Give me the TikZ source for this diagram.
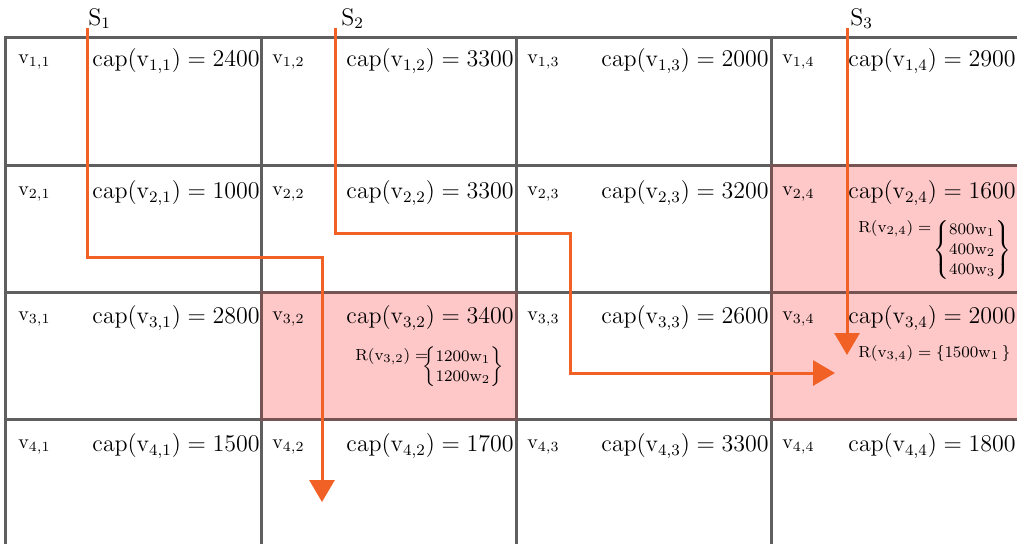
\documentclass[tikz,border=0pt]{standalone}
\usepackage{amsmath}
\usepackage{amssymb}
\usepackage{tikz}
\usetikzlibrary{arrows.meta}

\definecolor{gridgray}{RGB}{95,95,95}
\definecolor{cellpink}{RGB}{255,200,200}
\definecolor{celledge}{RGB}{118,84,84}
\definecolor{floworange}{RGB}{241,96,36}

\begin{document}
\begin{tikzpicture}[x=0.5pt,y=-0.5pt,
  vlab/.style={anchor=west,inner sep=0pt},
  caplab/.style={anchor=west,inner sep=0pt,font=\fontsize{11.8}{14}\selectfont},
  rlab/.style={anchor=west,inner sep=0pt,font=\fontsize{8.3}{10}\selectfont},
  slab/.style={anchor=base west,inner sep=0pt,font=\large},
  flow/.style={draw=floworange,line width=1.5pt,-{Triangle[width=12.5pt,length=11pt]}}]
 \useasboundingbox (0,0) rectangle (1017,543);
 \clip (0,0) rectangle (1017,543);
 % loaded cells
 \fill[cellpink] (771,165) rectangle (1030,419);
 \fill[cellpink] (261,292) rectangle (516,419);
 % grid
 \foreach \x in {5,261,516,771}
  \draw[gridgray,line width=1.5pt,line cap=rect] (\x,37) -- (\x,550);
 \foreach \y in {37,165,292,419}
  \draw[gridgray,line width=1.5pt,line cap=rect] (5,\y) -- (1030,\y);
 \draw[celledge,line width=1.5pt] (261,292) rectangle (516,419);
 \draw[celledge,line width=1.5pt] (771,165) rectangle (1030,419);
 \draw[celledge,line width=1.5pt] (771,292) -- (1030,292);

 % row 1
 \node[vlab] at (18,62)(v11){$\mathrm{v}_{1,1}$};
 \node[caplab] at (92,61)(c11){$\mathrm{cap}(\mathrm{v}_{1,1}) = 2400$};
 \node[vlab] at (272,62)(v12){$\mathrm{v}_{1,2}$};
 \node[caplab] at (346,61)(c12){$\mathrm{cap}(\mathrm{v}_{1,2}) = 3300$};
 \node[vlab] at (527,62)(v13){$\mathrm{v}_{1,3}$};
 \node[caplab] at (601,61)(c13){$\mathrm{cap}(\mathrm{v}_{1,3}) = 2000$};
 \node[vlab] at (782,62)(v14){$\mathrm{v}_{1,4}$};
 \node[caplab] at (848,61)(c14){$\mathrm{cap}(\mathrm{v}_{1,4}) = 2900$};
 % row 2
 \node[vlab] at (18,194)(v21){$\mathrm{v}_{2,1}$};
 \node[caplab] at (92,193)(c21){$\mathrm{cap}(\mathrm{v}_{2,1}) = 1000$};
 \node[vlab] at (272,194)(v22){$\mathrm{v}_{2,2}$};
 \node[caplab] at (346,193)(c22){$\mathrm{cap}(\mathrm{v}_{2,2}) = 3300$};
 \node[vlab] at (527,194)(v23){$\mathrm{v}_{2,3}$};
 \node[caplab] at (601,193)(c23){$\mathrm{cap}(\mathrm{v}_{2,3}) = 3200$};
 \node[vlab] at (782,194)(v24){$\mathrm{v}_{2,4}$};
 \node[caplab] at (848,193)(c24){$\mathrm{cap}(\mathrm{v}_{2,4}) = 1600$};
 \node[rlab] at (858,229)(r24){$\mathrm{R}(\mathrm{v}_{2,4}) =$};
 \node[rlab] at (933,250)(m24){$\left\{\begin{matrix}
   800\mathrm{w}_1 \\
   400\mathrm{w}_2 \\
   400\mathrm{w}_3
  \end{matrix}\right\}$};
 % row 3
 \node[vlab] at (18,319)(v31){$\mathrm{v}_{3,1}$};
 \node[caplab] at (92,318)(c31){$\mathrm{cap}(\mathrm{v}_{3,1}) = 2800$};
 \node[vlab] at (272,319)(v32){$\mathrm{v}_{3,2}$};
 \node[caplab] at (346,318)(c32){$\mathrm{cap}(\mathrm{v}_{3,2}) = 3400$};
 \node[rlab] at (355,357)(r32){$\mathrm{R}(\mathrm{v}_{3,2}) =$};
 \node[rlab] at (422,367)(m32){$\left\{\begin{matrix}
   1200\mathrm{w}_1 \\
   1200\mathrm{w}_2
  \end{matrix}\right\}$};
 \node[vlab] at (527,319)(v33){$\mathrm{v}_{3,3}$};
 \node[caplab] at (601,318)(c33){$\mathrm{cap}(\mathrm{v}_{3,3}) = 2600$};
 \node[vlab] at (782,319)(v34){$\mathrm{v}_{3,4}$};
 \node[caplab] at (848,318)(c34){$\mathrm{cap}(\mathrm{v}_{3,4}) = 2000$};
 \node[rlab] at (858,354)(r34){$\mathrm{R}(\mathrm{v}_{3,4}) = \{1500\mathrm{w}_1\,\}$};
 % row 4
 \node[vlab] at (18,447)(v41){$\mathrm{v}_{4,1}$};
 \node[caplab] at (92,446)(c41){$\mathrm{cap}(\mathrm{v}_{4,1}) = 1500$};
 \node[vlab] at (272,447)(v42){$\mathrm{v}_{4,2}$};
 \node[caplab] at (346,446)(c42){$\mathrm{cap}(\mathrm{v}_{4,2}) = 1700$};
 \node[vlab] at (527,447)(v43){$\mathrm{v}_{4,3}$};
 \node[caplab] at (601,446)(c43){$\mathrm{cap}(\mathrm{v}_{4,3}) = 3300$};
 \node[vlab] at (782,447)(v44){$\mathrm{v}_{4,4}$};
 \node[caplab] at (848,446)(c44){$\mathrm{cap}(\mathrm{v}_{4,4}) = 1800$};

 % the three flows
 \node[slab] at (88,25)(S1){$\mathrm{S}_1$};
 \node[slab] at (341,25)(S2){$\mathrm{S}_2$};
 \node[slab] at (850,25)(S3){$\mathrm{S}_3$};
 \coordinate (s1) at (87,28);
 \coordinate (b1) at (322,257);
 \coordinate (e1) at (322,502);
 \coordinate (s2) at (335,28);
 \coordinate (b2) at (570,233);
 \coordinate (e2) at (835,373);
 \coordinate (s3) at (847,28);
 \coordinate (e3) at (847,355);
 \draw[flow] (s1) |- (b1) -- (e1);
 \draw[flow] (s2) |- (b2) |- (e2);
 \draw[flow] (s3) -- (e3);
\end{tikzpicture}
\end{document}
